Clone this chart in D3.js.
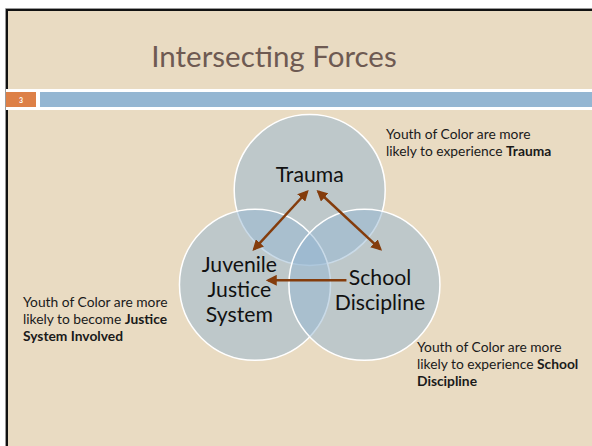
<!DOCTYPE html>
<html>
<head>
<meta charset="utf-8">
<script src="https://cdn.jsdelivr.net/npm/d3@7"></script>
<style>
  html, body { margin: 0; background: #fff; overflow: hidden; }
  svg { display: block; font-family: Lato, "Open Sans", sans-serif; }
</style>
</head>
<body>
<svg id="slide" width="592" height="446"></svg>
<script>
const title = "Intersecting Forces";
const slideNumber = "3";

// the three overlapping forces: top, lower left, lower right
const forces = ["Trauma", "Juvenile|Justice|System", "School|Discipline"];

// arrows between forces: [from, to, double headed]
const links = [
  [0, 1, true],
  [0, 2, true],
  [2, 1, false],
];

// side notes, one per force; "*" marks the bold part
const notes = [
  ["Youth of Color are more", "likely to experience *Trauma"],
  ["Youth of Color are more", "likely to become *Justice", "*System Involved"],
  ["Youth of Color are more", "likely to experience *School", "*Discipline"],
];

const svg = d3.select("#slide");
const W = 592, H = 446;

// slide: beige page with a dark edge along the top and left only
svg.append("rect").attr("x", 8).attr("y", 11).attr("width", W).attr("height", H)
  .attr("fill", "#e9dbc2");
svg.append("path")
  .attr("d", `M${W},8.5 H5.5 V${H}`)
  .attr("fill", "none").attr("stroke", "#9a9a9a").attr("stroke-width", 1);
svg.append("path")
  .attr("d", `M${W},10 H7 V${H}`)
  .attr("fill", "none").attr("stroke", "#111").attr("stroke-width", 2);

svg.append("text")
  .attr("x", 274).attr("y", 67)
  .attr("text-anchor", "middle")
  .attr("font-size", 29.5)
  .attr("fill", "#6e5a52")
  .text(title);

// header band
svg.append("rect").attr("x", 6).attr("y", 89).attr("width", W).attr("height", 21)
  .attr("fill", "#fff");
svg.append("rect").attr("x", 6).attr("y", 92).attr("width", 30).attr("height", 15)
  .attr("fill", "#dd8047");
svg.append("rect").attr("x", 40).attr("y", 92).attr("width", W).attr("height", 15)
  .attr("fill", "#94b6d2");
svg.append("text").attr("x", 21).attr("y", 102.5)
  .attr("text-anchor", "middle").attr("font-size", 7).attr("font-weight", 700)
  .attr("fill", "#fff").text(slideNumber);

// venn layout: centres on a ring around the centroid, one every 120 degrees
const cx = 309.7, cy = 253.2, spread = 63.2, r = 75.5;
const angle = d3.scaleLinear().domain([0, forces.length]).range([-Math.PI / 2, (3 * Math.PI) / 2]);
// order goes top -> lower left -> lower right, so walk the ring backwards
const centres = forces.map((f, i) => {
  const a = angle(i ? forces.length - i : 0);
  return { x: cx + spread * Math.cos(a), y: cy + spread * Math.sin(a) };
});

svg.append("g").selectAll("circle")
  .data(centres)
  .join("circle")
  .attr("cx", (d) => d.x)
  .attr("cy", (d) => d.y)
  .attr("r", r)
  .attr("fill", "#94b6d2")
  .attr("fill-opacity", 0.5)
  .attr("stroke", "#fff")
  .attr("stroke-width", 1.5);

// labels, pushed outwards from the centroid
const labelG = svg.append("g").attr("font-size", 21.2).attr("fill", "#111")
  .attr("text-anchor", "middle");
forces.forEach((f, i) => {
  const c = centres[i];
  const dx = (c.x - cx) / spread, dy = (c.y - cy) / spread;
  const lx = c.x + dx * 18;
  const ly = c.y + dy * (dy < 0 ? 16 : 10);
  const lines = f.split("|");
  const lh = 25;
  const t = labelG.append("text").attr("x", lx).attr("y", ly - ((lines.length - 1) * lh) / 2 + 7.5);
  lines.forEach((ln, k) => {
    t.append("tspan").attr("x", lx).attr("dy", k ? lh : 0).text(ln);
  });
});

// arrows
const defs = svg.append("defs");
defs.append("marker")
  .attr("id", "head")
  .attr("viewBox", "0 0 10 10")
  .attr("refX", 8).attr("refY", 5)
  .attr("markerWidth", 11).attr("markerHeight", 11)
  .attr("markerUnits", "userSpaceOnUse")
  .attr("orient", "auto-start-reverse")
  .append("path")
  .attr("d", "M0,0 L10,5 L0,10 Z")
  .attr("fill", "#843c0c");

// anchor points around each label, depending on the other end
const anchors = [
  (other) => ({ x: centres[0].x + (other === 1 ? -2.5 : 8.5), y: centres[0].y + 1.5 }),
  (other) => other === 0 ? { x: centres[1].x - 1, y: centres[1].y - 35.5 } : { x: centres[1].x + 13, y: centres[1].y - 4.5 },
  (other) => other === 0 ? { x: centres[2].x + 16, y: centres[2].y - 35.5 } : { x: centres[2].x - 18, y: centres[2].y - 4.5 },
];

svg.append("g").selectAll("line")
  .data(links)
  .join("line")
  .each(function ([a, b, both]) {
    const p = anchors[a](b), q = anchors[b](a);
    d3.select(this)
      .attr("x1", p.x).attr("y1", p.y)
      .attr("x2", q.x).attr("y2", q.y)
      .attr("stroke", "#843c0c")
      .attr("stroke-width", 2.5)
      .attr("marker-end", "url(#head)")
      .attr("marker-start", both ? "url(#head)" : null);
  });

// side notes
const notePos = [
  { x: 386, y: 139 },
  { x: 23, y: 307 },
  { x: 417, y: 352 },
];
const noteG = svg.append("g").attr("font-size", 13.8).attr("fill", "#1a1a1a");
notes.forEach((lines, i) => {
  const t = noteG.append("text").attr("x", notePos[i].x).attr("y", notePos[i].y);
  lines.forEach((ln, k) => {
    const [plain, bold] = ln.split("*");
    const first = t.append("tspan").attr("x", notePos[i].x).attr("dy", k ? 17 : 0);
    if (plain) first.text(plain);
    if (bold !== undefined) {
      if (plain) t.append("tspan").attr("font-weight", 700).text(bold);
      else first.attr("font-weight", 700).text(bold);
    }
  });
});
</script>
</body>
</html>
